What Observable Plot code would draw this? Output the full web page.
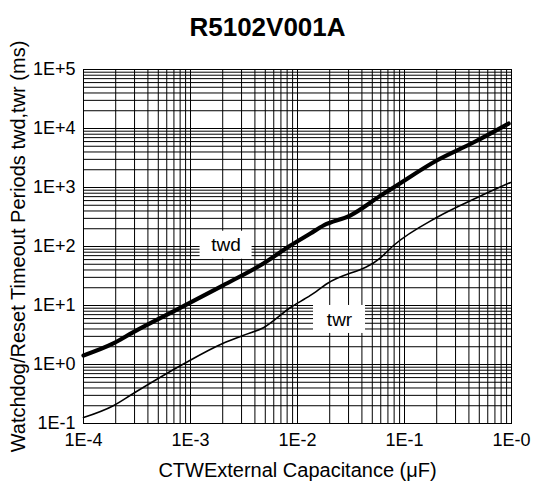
<!DOCTYPE html>
<html><head><meta charset="utf-8">
<script src="https://cdn.jsdelivr.net/npm/d3@7"></script>
<script src="https://cdn.jsdelivr.net/npm/@observablehq/plot@0.6"></script>
<style>body{margin:0;background:#fff}</style>
</head><body><div id="chart"></div>
<script>
const title = "R5102V001A";
const xLabel = "CTWExternal Capacitance (\u03bcF)";
const yLabel = "Watchdog/Reset Timeout Periods twd,twr (ms)";
const xTickValues = [1e-4, 1e-3, 1e-2, 1e-1, 1];
const xTickLabels = ["1E-4", "1E-3", "1E-2", "1E-1", "1E-0"];
const yTickValues = [0.1, 1, 10, 100, 1000, 1e4, 1e5];
const yTickLabels = ["1E-1", "1E+0", "1E+1", "1E+2", "1E+3", "1E+4", "1E+5"];

// twd series (capacitance µF, period ms)
const twdC  = [1e-4, 1.9e-4, 2.9e-4, 8.1e-4, 2.0e-3, 4.8e-3, 8.6e-3, 1.32e-2, 1.75e-2, 3.1e-2, 6.0e-2, 7.9e-2, 0.2, 0.44, 0.94];
const twdMs = [1.42, 2.27, 3.5, 9.2, 21.8, 51.5, 104, 166, 227, 335, 731, 1000, 2870, 5790, 12150];
// twr series
const twrC  = [1e-4, 1.9e-4, 2.9e-4, 8.1e-4, 2.0e-3, 3.1e-3, 4.8e-3, 8.6e-3, 1.32e-2, 1.9e-2, 6.0e-2, 7.9e-2, 0.2, 0.48, 0.98];
const twrMs = [0.126, 0.20, 0.32, 0.96, 2.27, 3.1, 4.2, 9.25, 14.8, 23.6, 65, 104, 310, 677, 1216];

const labelNames = ["twd", "twr"];
const labelC  = [2.15e-3, 0.0247];
const labelMs = [105, 5.8];

const twd = twdC.map((c, i) => ({c, ms: twdMs[i]}));
const twr = twrC.map((c, i) => ({c, ms: twrMs[i]}));
const labels = labelNames.map((name, i) => ({name, c: labelC[i], ms: labelMs[i]}));

// minor grid at 1..9 per decade, derived from the decade ticks
const xGrid = xTickValues.slice(0, -1).flatMap(d => d3.range(1, 10).map(k => d * k)).concat([xTickValues.at(-1)]);
const yGrid = yTickValues.slice(0, -1).flatMap(d => d3.range(1, 10).map(k => d * k)).concat([yTickValues.at(-1)]);

const xFmt = d => xTickLabels[xTickValues.indexOf(d)] ?? "";
const yFmt = d => yTickLabels[yTickValues.indexOf(d)] ?? "";

const font = "'Liberation Sans', Arial, sans-serif";

const chart = Plot.plot({
  width: 534,
  height: 483,
  marginLeft: 83,
  marginRight: 23,
  marginTop: 69,
  marginBottom: 60,
  style: {fontFamily: font, background: "#fff", color: "#000"},
  x: {type: "log", domain: [1e-4, 1]},
  y: {type: "log", domain: [0.1, 1e5]},
  marks: [
    Plot.ruleX(xGrid, {stroke: "#000", strokeWidth: 1}),
    Plot.ruleY(yGrid, {stroke: "#000", strokeWidth: 1}),
    Plot.frame({stroke: "#000"}),
    Plot.line(twd, {x: "c", y: "ms", stroke: "#000", strokeWidth: 4.2, curve: "monotone-x"}),
    Plot.line(twr, {x: "c", y: "ms", stroke: "#000", strokeWidth: 1.6, curve: "monotone-x"}),
    Plot.rect(labels, {x1: "c", x2: "c", y1: "ms", y2: "ms", fill: "#fff",
      insetLeft: -26, insetRight: -26, insetTop: -14, insetBottom: -14}),
    Plot.text(labels, {x: "c", y: "ms", text: "name", fontSize: 19, fill: "#000"}),
    Plot.axisX(xTickValues, {tickFormat: xFmt, tickSize: 0, tickPadding: 10, fontSize: 18, label: null, fill: "#000"}),
    Plot.axisY(yTickValues, {tickFormat: yFmt, tickSize: 0, tickPadding: 8, fontSize: 18, label: null, fill: "#000"}),
    Plot.text([title], {frameAnchor: "top", lineAnchor: "middle", dx: -30, dy: -42, fontSize: 26, fontWeight: "bold", fill: "#000"}),
    Plot.text([xLabel], {frameAnchor: "bottom", lineAnchor: "middle", dy: 47, fontSize: 20, fill: "#000"}),
    Plot.text([yLabel], {frameAnchor: "left", textAnchor: "middle", lineAnchor: "middle", dx: -65, rotate: -90, fontSize: 20, fill: "#000"})
  ]
});
document.getElementById("chart").appendChild(chart);
</script>
</body></html>
